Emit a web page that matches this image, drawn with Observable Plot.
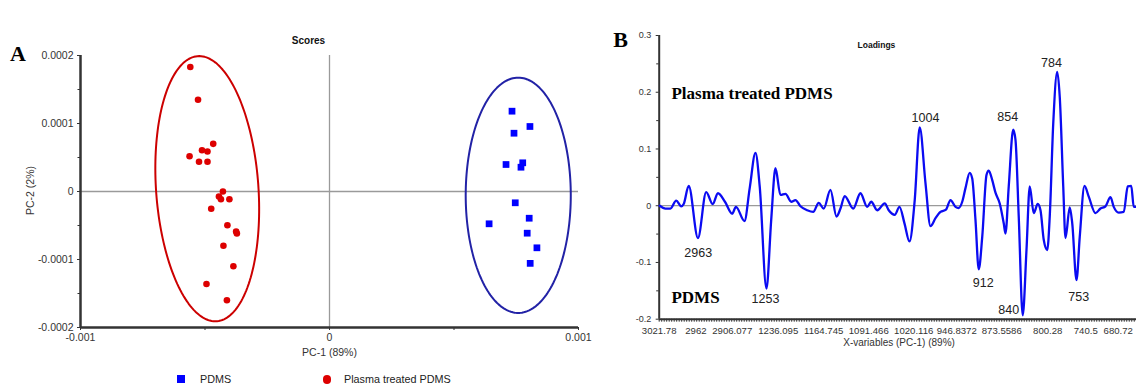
<!DOCTYPE html>
<html><head><meta charset="utf-8">
<script src="https://cdn.jsdelivr.net/npm/d3@7"></script>
<script src="https://cdn.jsdelivr.net/npm/@observablehq/plot@0.6"></script>
<style>
html,body{margin:0;padding:0;background:#fff}
body{width:1136px;height:384px;overflow:hidden;position:relative;font-family:"Liberation Sans",Arial,sans-serif}
#a{position:absolute;left:0;top:0}
#b{position:absolute;left:600px;top:0}
#legend{position:absolute;left:0;top:370px;width:600px;height:14px;font-size:10.8px;color:#222}
#legend span{position:absolute}
</style>
</head><body>
<div id="a"></div><div id="b"></div>
<div id="legend">
  <span style="left:177px;top:5px;width:8px;height:8px;background:#0000ff"></span>
  <span style="left:200px;top:2px;line-height:14px">PDMS</span>
  <span style="left:322.5px;top:5px;width:8.5px;height:8.5px;border-radius:50%;background:#dd0000"></span>
  <span style="left:344px;top:2px;line-height:14px">Plasma treated PDMS</span>
</div>
<script>
// ---------- Panel A: Scores ----------
const pdmsPC1 = [0.000733, 0.000805, 0.000741, 0.000709, 0.000776, 0.000769, 0.000746, 0.000641, 0.000802, 0.000794, 0.000833, 0.000806];
const pdmsPC2 = [0.0001181, 0.0000956, 0.0000857, 0.0000397, 0.0000422, 0.0000357, -0.0000166, -0.0000475, -0.0000393, -0.0000613, -0.0000828, -0.0001057];
const plasmaPC1 = [-0.000559, -0.000528, -0.000467, -0.000512, -0.000490, -0.000562, -0.000524, -0.000490, -0.000428, -0.000444, -0.000436, -0.000402, -0.000475, -0.000410, -0.000375, -0.000372, -0.000426, -0.000386, -0.000494, -0.000412];
const plasmaPC2 = [0.000183, 0.000135, 0.0000701, 0.0000607, 0.0000588, 0.0000519, 0.0000437, 0.0000437, 0.0, -0.0000074, -0.0000113, -0.0000113, -0.0000254, -0.0000496, -0.0000588, -0.0000618, -0.0000797, -0.000110, -0.000136, -0.000160];
// confidence ellipses: centre, half-widths, shear of top point
const ellipseNames = ["PDMS", "Plasma treated PDMS"];
const ellipseCx = [0.000758, -0.000491];
const ellipseCy = [-0.0000056, 0.0000041];
const ellipseA = [0.000211, 0.000206];
const ellipseB = [0.000173, 0.000195];
const ellipseShear = [0.0, -0.0000321];
const scoreXTicks = [-0.001, 0, 0.001];
const scoreXLabels = ["-0.001", "0", "0.001"];
const scoreXMinor = [-0.0005, 0.0005];
const scoreYTicks = [0.0002, 0.0001, 0, -0.0001, -0.0002];
const scoreYLabels = ["0.0002", "0.0001", "0", "-0.0001", "-0.0002"];
const scoreYMinor = [0.00015, 0.00005, -0.00005, -0.00015];

// ---------- Panel B: Loadings ----------
const loadingIndex = [0.2, 2.5, 4.5, 6.8, 8.8, 9.8, 11.8, 15.5, 18.8, 21.4, 23.5, 26.3, 29.2, 30.7, 34.1, 36.2, 38.5, 40.2, 42.9, 44.8, 46.5, 48.5, 50.5, 52.8, 54.5, 56.5, 59.2, 61.6, 63.8, 65.8, 68.5, 70.9, 72.5, 74.2, 77.6, 80.5, 83.2, 84.8, 87.2, 90.2, 91.8, 94.2, 96.1, 98.1, 100.1, 102.2, 104.2, 106.5, 108.5, 110.5, 112.5, 114.7, 116.5, 118.5, 119.8, 121.2, 122.5, 124.2, 125.2, 126.5, 127.8, 129.2, 130.9, 131.8, 133.2, 134.5, 136.2, 137.8, 138.5, 139.8, 141.6, 142.5, 143.8, 145.4, 146.9, 148.2, 149.8, 151.4, 152.5, 153.8, 155.2, 156.2, 157.6, 159.2, 160.2, 161.6, 162.5, 164.2, 165.2, 166.9, 168.2, 170.1, 171.8, 174.5, 176.5, 178.5, 180.5, 181.8, 183.8, 185.8, 187.4, 188.8, 189.8, 190.9];
const loadingValue = [0, -0.005, -0.005, 0.009, -0.001, 0.003, 0.035, -0.057, 0.024, 0.003, 0.022, 0.007, -0.014, -0.002, -0.027, 0.031, 0.093, 0.034, -0.146, -0.025, 0.066, 0.019, 0.021, 0.007, 0.010, -0.001, -0.008, -0.011, 0.005, -0.005, 0.028, -0.019, -0.005, 0.017, -0.005, 0.022, -0.002, 0.007, -0.008, 0.004, -0.008, -0.016, -0.002, -0.031, -0.063, 0.010, 0.138, 0.040, -0.036, -0.022, -0.011, -0.007, 0.010, -0.002, -0.004, 0.007, 0.031, 0.058, 0.048, -0.025, -0.112, -0.055, 0.054, 0.062, 0.045, 0.023, 0.004, -0.031, -0.049, 0.034, 0.134, 0.116, -0.019, -0.193, -0.078, 0.034, -0.013, 0.003, -0.008, -0.060, -0.078, -0.019, 0.145, 0.236, 0.192, 0.034, -0.057, -0.003, -0.031, -0.131, -0.055, 0.035, 0.016, -0.013, -0.005, -0.001, 0.015, -0.002, -0.012, -0.011, 0.034, 0.035, -0.002, -0.002];
const loadingTickIndex = [0, 14.7, 29.2, 47.6, 65.8, 83.8, 101.8, 119.0, 137.0, 155.4, 170.6, 183.6];
const loadingTickLabels = ["3021.78", "2962", "2906.077", "1236.095", "1164.745", "1091.466", "1020.116", "946.8372", "873.5586", "800.28", "740.5", "680.72"];
const loadingYTicks = [0.3, 0.2, 0.1, 0, -0.1, -0.2];
const loadingYLabels = ["0.3", "0.2", "0.1", "0", "-0.1", "-0.2"];
const loadingYMinor = [0.25, 0.15, 0.05, -0.05, -0.15];
const peakLabels = ["2963", "1253", "1004", "854", "784", "912", "840", "753"];
const peakIndex = [15.6, 42.5, 106.5, 139.4, 156.9, 129.6, 139.8, 167.8];
const peakValue = [-0.083, -0.165, 0.155, 0.156, 0.252, -0.136, -0.184, -0.160];
const groupLabels = ["Plasma treated PDMS", "PDMS"];
const groupIndex = [4.9, 4.9];
const groupValue = [0.197, -0.162];

const sans = "Liberation Sans, Arial, sans-serif";
const serif = "Liberation Serif, Times New Roman, serif";

function ellipse(k) {
  const pts = [];
  for (let j = 0; j <= 180; j++) {
    const t = (j / 180) * 2 * Math.PI;
    pts.push({x: ellipseCx[k] + ellipseA[k] * Math.cos(t) + ellipseShear[k] * Math.sin(t),
              y: ellipseCy[k] + ellipseB[k] * Math.sin(t)});
  }
  return pts;
}
const fmt = (ticks, labels) => { const m = new Map(ticks.map((t, i) => [t, labels[i]])); return d => m.get(d) ?? ""; };

const plotA = Plot.plot({
  width: 600, height: 362,
  marginLeft: 80, marginTop: 55, marginRight: 22, marginBottom: 35,
  x: {domain: [-0.001, 0.001]},
  y: {domain: [-0.0002, 0.0002]},
  style: {fontFamily: sans, color: "#333", background: "#fff", overflow: "visible"},
  marks: [
    Plot.ruleY([0], {stroke: "#9a9a9a", strokeWidth: 1.3}),
    Plot.ruleX([0], {stroke: "#9a9a9a", strokeWidth: 1.3}),
    Plot.axisY({ticks: scoreYTicks, tickFormat: fmt(scoreYTicks, scoreYLabels), tickSize: 3, tickPadding: 4, fontSize: 10.5, label: null}),
    Plot.axisY({ticks: scoreYMinor, tickFormat: () => "", tickSize: 2.5, label: null}),
    Plot.axisX({ticks: scoreXTicks, tickFormat: fmt(scoreXTicks, scoreXLabels), tickSize: 3, tickPadding: 3.5, fontSize: 10.5, label: null}),
    Plot.axisX({ticks: scoreXMinor, tickFormat: () => "", tickSize: 3, label: null}),
    Plot.ruleX([-0.001], {stroke: "#333", strokeWidth: 2.5}),
    Plot.ruleY([-0.0002], {stroke: "#333", strokeWidth: 2.5}),
    Plot.line(ellipse(0), {x: "x", y: "y", stroke: "#2222a6", strokeWidth: 2}),
    Plot.line(ellipse(1), {x: "x", y: "y", stroke: "#cc0000", strokeWidth: 2}),
    Plot.dot(pdmsPC1, {x: pdmsPC1, y: pdmsPC2, symbol: "square", r: 3.8, fill: "#0000ff"}),
    Plot.dot(plasmaPC1, {x: plasmaPC1, y: plasmaPC2, r: 3.3, fill: "#dd0000"}),
    Plot.text(["A"], {text: d => d, frameAnchor: "top-left", dx: -62.5, dy: -2, fontSize: 22, fontWeight: "bold", fontFamily: serif, fill: "#000", textAnchor: "middle", lineAnchor: "middle"}),
    Plot.text(["Scores"], {text: d => d, frameAnchor: "top", dx: -21, dy: -15, fontSize: 10, fontWeight: "bold", fill: "#111", textAnchor: "middle", lineAnchor: "middle"}),
    Plot.text(["PC-1 (89%)"], {text: d => d, frameAnchor: "bottom", dy: 24.7, fontSize: 10.5, fill: "#333", textAnchor: "middle", lineAnchor: "middle"}),
    Plot.text(["PC-2 (2%)"], {text: d => d, frameAnchor: "left", dx: -50, dy: -1, rotate: -90, fontSize: 10.5, fill: "#333", textAnchor: "middle", lineAnchor: "middle"})
  ]
});
document.getElementById("a").append(plotA);

const plotB = Plot.plot({
  width: 536, height: 355,
  marginLeft: 58.7, marginTop: 35, marginRight: 0, marginBottom: 36.3,
  x: {domain: [0, 190.9]},
  y: {domain: [-0.2, 0.3]},
  style: {fontFamily: sans, color: "#333", background: "#fff", overflow: "visible"},
  marks: [
    Plot.ruleY([0], {stroke: "#9a9a9a", strokeWidth: 1.3}),
    Plot.axisY({ticks: loadingYTicks, tickFormat: fmt(loadingYTicks, loadingYLabels), tickSize: 3, tickPadding: 5, fontSize: 9, label: null}),
    Plot.axisY({ticks: loadingYMinor, tickFormat: () => "", tickSize: 2.5, label: null}),
    Plot.axisX({ticks: d3.range(0, 191), tickFormat: () => "", tickSize: 3, label: null}),
    Plot.axisX({ticks: loadingTickIndex, tickFormat: fmt(loadingTickIndex, loadingTickLabels), tickSize: 0, tickPadding: 7.5, fontSize: 9.6, label: null}),
    Plot.ruleX([0], {stroke: "#333", strokeWidth: 2}),
    Plot.ruleY([-0.2], {stroke: "#333", strokeWidth: 2}),
    Plot.line(loadingIndex, {x: loadingIndex, y: loadingValue, stroke: "#0b0bf2", strokeWidth: 2.3, curve: "monotone-x"}),
    Plot.text(peakLabels, {x: peakIndex, y: peakValue, text: peakLabels, fontSize: 12.5, fill: "#222", textAnchor: "middle", lineAnchor: "middle"}),
    Plot.text(groupLabels, {x: groupIndex, y: groupValue, text: groupLabels, fontSize: 17, fontWeight: "bold", fontFamily: serif, fill: "#000", textAnchor: "start", lineAnchor: "middle"}),
    Plot.text(["B"], {text: d => d, frameAnchor: "top-left", dx: -38.7, dy: 4.3, fontSize: 22, fontWeight: "bold", fontFamily: serif, fill: "#000", textAnchor: "middle", lineAnchor: "middle"}),
    Plot.text(["Loadings"], {text: d => d, frameAnchor: "top", dx: -21.4, dy: 10, fontSize: 8.5, fontWeight: "bold", fill: "#111", textAnchor: "middle", lineAnchor: "middle"}),
    Plot.text(["X-variables (PC-1) (89%)"], {text: d => d, frameAnchor: "bottom", dx: 1.2, dy: 24, fontSize: 10, fill: "#333", textAnchor: "middle", lineAnchor: "middle"})
  ]
});
document.getElementById("b").append(plotB);
</script>
</body></html>
